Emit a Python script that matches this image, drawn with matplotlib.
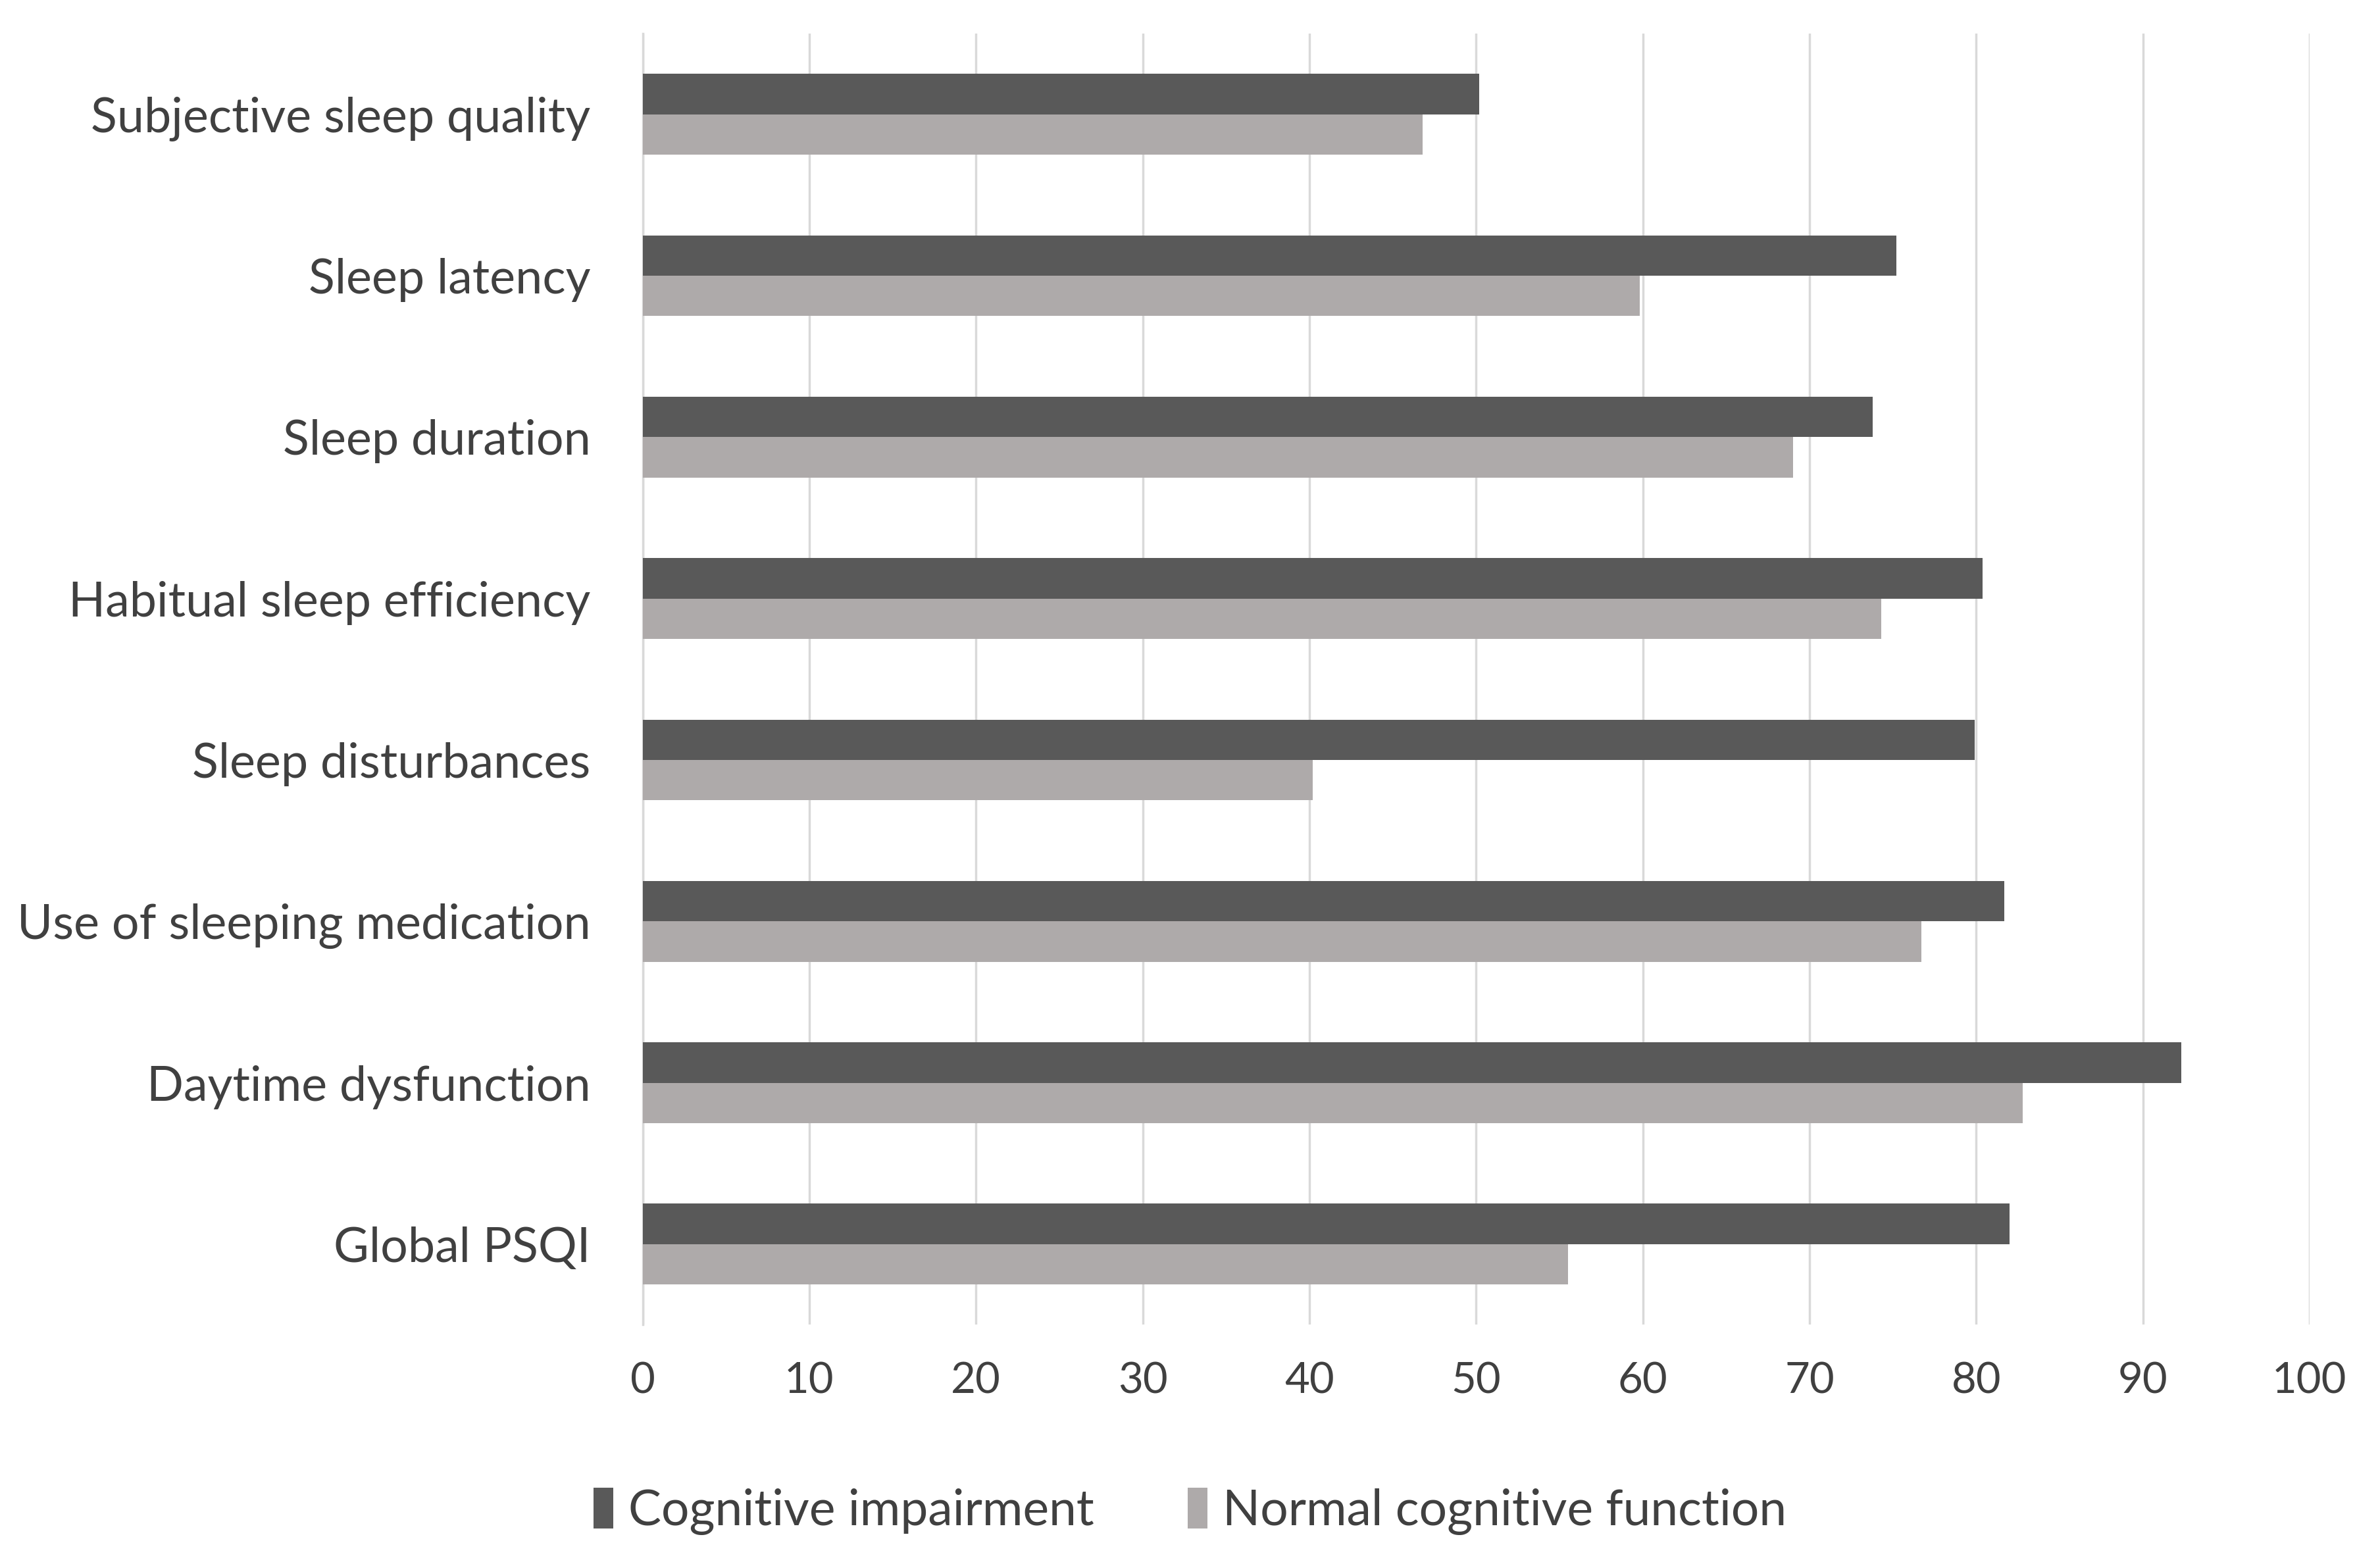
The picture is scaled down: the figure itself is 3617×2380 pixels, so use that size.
import numpy as np
import matplotlib.pyplot as plt

# PSQI components (percent)
categories = ['Subjective sleep quality', 'Sleep latency', 'Sleep duration',
              'Habitual sleep efficiency', 'Sleep disturbances',
              'Use of sleeping medication', 'Daytime dysfunction', 'Global PSQI']
cognitive_impairment = [50.2, 75.2, 73.8, 80.4, 79.9, 81.7, 92.3, 82.0]
normal_function = [46.8, 59.8, 69.0, 74.3, 40.2, 76.7, 82.8, 55.5]
series_names = ['Cognitive impairment', 'Normal cognitive function']
x_ticks = list(range(0, 101, 10))

plt.rcParams['font.family'] = ['Lato', 'DejaVu Sans']

fig = plt.figure(figsize=(36.17, 23.8), dpi=100)
ax = fig.add_axes([0.270, 0.154, 0.7004, 0.8246])

y = np.arange(len(categories))
h = 0.25
ax.barh(y - h / 2, cognitive_impairment, height=h, color='#595959',
        label=series_names[0], zorder=3)
ax.barh(y + h / 2, normal_function, height=h, color='#AEAAAA',
        label=series_names[1], zorder=3)

ax.set_xlim(0, 100)
ax.set_ylim(len(categories) - 0.5, -0.5)
ax.set_xticks(x_ticks)
ax.set_yticks(y)
ax.set_yticklabels(categories)
ax.tick_params(axis='both', length=0, colors='#404040')
ax.tick_params(axis='y', pad=57, labelsize=53)
ax.tick_params(axis='x', pad=40, labelsize=47)

ax.grid(axis='x', color='#D9D9D9', linewidth=2.5, zorder=0)
for s in ['top', 'right', 'bottom']:
    ax.spines[s].set_visible(False)
ax.spines['left'].set_color('#D9D9D9')
ax.spines['left'].set_linewidth(2.5)

fig.legend(loc='center', bbox_to_anchor=(0.5, 0.035), ncol=2, frameon=False,
           fontsize=54, handlelength=0.4, handleheight=0.9, handletextpad=0.3,
           columnspacing=1.9, labelcolor='#404040')

fig.savefig('out.png', dpi=100, facecolor='white')
